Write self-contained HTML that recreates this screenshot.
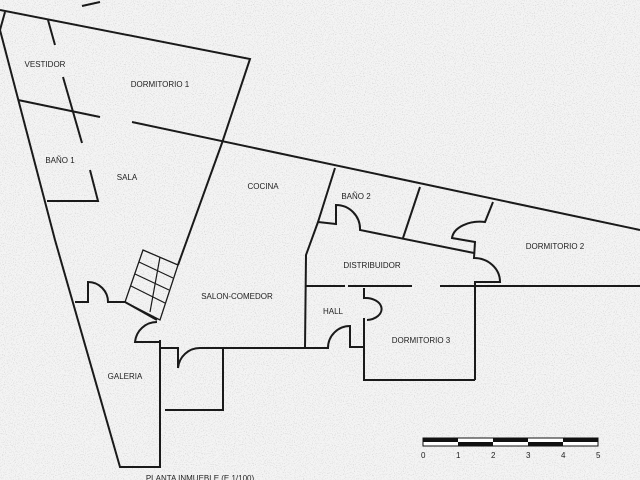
<!DOCTYPE html>
<html><head><meta charset="utf-8"><style>
html,body{margin:0;padding:0;width:640px;height:480px;overflow:hidden;background:#efefef}
svg{display:block}
text{font-family:"Liberation Sans",sans-serif;font-size:8px;fill:#222}
</style></head><body>
<svg width="640" height="480" viewBox="0 0 640 480">
<filter id="n"><feTurbulence type="fractalNoise" baseFrequency="0.9" numOctaves="2" seed="3"/><feColorMatrix values="0 0 0 0 0.4  0 0 0 0 0.4  0 0 0 0 0.4  0 0 0 -2.2 1.1"/></filter>
<rect width="640" height="480" fill="#f4f4f4"/>
<rect width="640" height="480" filter="url(#n)" opacity="0.55"/>
<g fill="none" stroke="#1a1a1a" stroke-width="2">
<path d="M82,6 L100,2"/>
<path d="M0,10 L250,59 L222,143 L178,265"/>
<path d="M5,12 L0,30 L55,240 L120,467 L160,467 L160,345"/>
<path d="M18,100 L100,117"/>
<path d="M132,122 L640,230"/>
<path d="M48,20 L55,45 M63,77 L82,143 M90,170 L98,201 L47,201"/>
<path d="M143,250 L178,265 L160,320 L125,302 Z" stroke-width="1.3"/>
<path d="M139,262 L173,278 M135,274 L169,290 M131,286 L165,303 M160,257 L150,312" stroke-width="1.2"/>
<path d="M75,302 L88,302 L88,282 A20,20 0 0 1 108,302 L125,302 L157,320"/>
<path d="M157,322 A22,22 0 0 0 135,342 L160,342 M160,340 L160,348"/>
<path d="M160,348 L178,348 L178,368 A22,22 0 0 1 200,348 M200,348 L223,348 L223,410 L165,410 M223,348 L320,348"/>
<path d="M335,168 L318,222 L306,255 L305,348"/>
<path d="M318,222 L336,224 L336,205 A24,24 0 0 1 360,230 L474,253"/>
<path d="M420,187 L403,238"/>
<path d="M493,202 L485,222 A28,18 0 0 0 452,238 L475,242 L474,258 A26,24 0 0 1 500,282 L475,282 L475,380"/>
<path d="M305,286 L345,286 M348,286 L412,286 M440,286 L640,286"/>
<path d="M364,288 L364,298 A16,11 0 0 1 367,320 M364,318 L364,380 L475,380"/>
<path d="M305,348 L328,348 A22,22 0 0 1 350,326 L350,347 L364,347"/>
</g>
<rect x="423" y="438" width="175" height="8" fill="#fff" stroke="#111" stroke-width="1"/>
<g fill="#111"><rect x="423" y="438" width="35" height="4"/><rect x="458" y="442" width="35" height="4"/><rect x="493" y="438" width="35" height="4"/><rect x="528" y="442" width="35" height="4"/><rect x="563" y="438" width="35" height="4"/></g>
<g style="font-size:9px"><text x="421" y="458">0</text><text x="456" y="458">1</text><text x="491" y="458">2</text><text x="526" y="458">3</text><text x="561" y="458">4</text><text x="596" y="458">5</text></g>
<g text-anchor="middle">
<text x="45" y="67">VESTIDOR</text>
<text x="160" y="87">DORMITORIO 1</text>
<text x="60" y="163">BAÑO 1</text>
<text x="127" y="180">SALA</text>
<text x="263" y="189">COCINA</text>
<text x="356" y="199">BAÑO 2</text>
<text x="555" y="249">DORMITORIO 2</text>
<text x="372" y="268">DISTRIBUIDOR</text>
<text x="237" y="299">SALON-COMEDOR</text>
<text x="333" y="314">HALL</text>
<text x="421" y="343">DORMITORIO 3</text>
<text x="125" y="379">GALERIA</text>
<text x="200" y="481">PLANTA INMUEBLE (E 1/100)</text>
</g>
</svg>
</body></html>
